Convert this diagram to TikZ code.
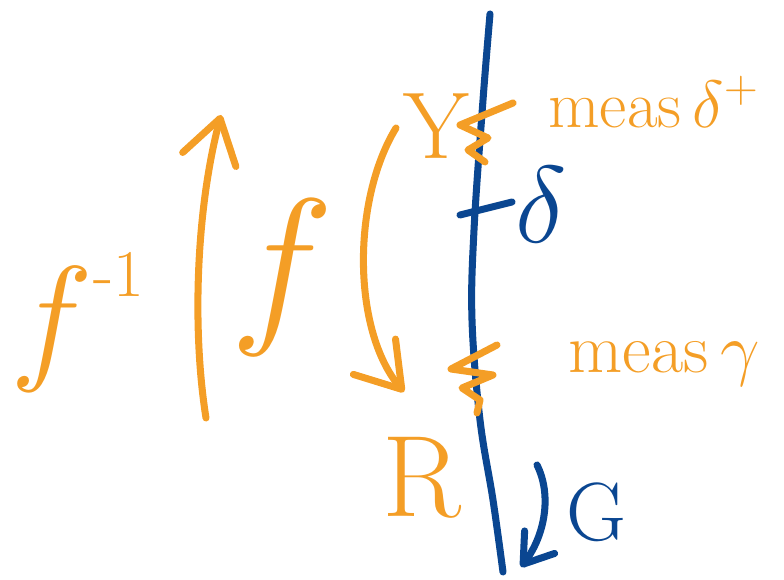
\RequirePackage{fix-cm}
\documentclass[tikz,border=0pt]{standalone}
\usepackage{amsmath}
\usetikzlibrary{arrows.meta}
\definecolor{penorange}{RGB}{244,158,38}
\definecolor{penblue}{RGB}{10,70,145}
\tikzset{
  ostroke/.style = {draw=penorange, line width=4pt, line cap=round, line join=round},
  bstroke/.style = {draw=penblue, line width=4pt, line cap=round, line join=round},
  olbl/.style    = {text=penorange, inner sep=0pt},
  blbl/.style    = {text=penblue, inner sep=0pt},
  obarb/.style   = {-{Straight Barb[length=0.85cm, width=1.1cm, round]}},
  bbarb/.style   = {-{Straight Barb[length=0.55cm, width=0.75cm, round]}},
}

\begin{document}
\begin{tikzpicture}[x=0.02cm, y=-0.02cm]
  \useasboundingbox (0,0) rectangle (784,580);
  % labels
  \node[olbl] (finv) at (78,322) {\fontsize{80}{80}\selectfont $f^{\raisebox{0.35cm}{\fontsize{38}{38}\selectfont -1}}$};
  \node[olbl] (f) at (282,278) {\fontsize{100}{100}\selectfont $f$};
  \node[olbl] (Y) at (436,126) {\fontsize{54}{54}\selectfont Y};
  \node[olbl] (R) at (422,478) {\fontsize{66}{66}\selectfont R};
  \node[olbl, anchor=west] (mdelta) at (548,102) {\fontsize{38}{38}\selectfont meas$\,\delta^{+}$};
  \node[olbl, anchor=west] (mgamma) at (568,364) {\fontsize{40}{40}\selectfont meas$\,\gamma$};
  \node[blbl] (delta) at (541,205) {\fontsize{62}{62}\selectfont $\delta$};
  \node[blbl] (G) at (596,512) {\fontsize{47}{47}\selectfont G};
  % blue world line
  \draw[bstroke] plot[smooth, tension=0.6] coordinates
    {(490,14) (483,100) (474,230) (472,320) (480,420) (493,500) (503,572)};
  \draw[bstroke] (460,215) -- (512,202);
  % orange marks on the line
  \draw[ostroke] (513,103) -- (460,125) -- (488,138) -- (468,150) -- (485,162);
  \draw[ostroke] (497,345) -- (451,369) -- (493,375) -- (462,388) -- (480,400) -- (477,413);
  % arrows
  \coordinate (upS) at (206,418);
  \coordinate (upE) at (221,115);
  \draw[ostroke, obarb] (upS) .. controls (192,330) and (196,210) .. (upE);
  \coordinate (dnS) at (396,128);
  \coordinate (dnE) at (404,392);
  \draw[ostroke, obarb] (dnS) .. controls (352,200) and (352,330) .. (dnE);
  \coordinate (gS) at (537,465);
  \coordinate (gE) at (521,567);
  \draw[bstroke, bbarb] (gS) .. controls (552,495) and (545,535) .. (gE);
\end{tikzpicture}
\end{document}
